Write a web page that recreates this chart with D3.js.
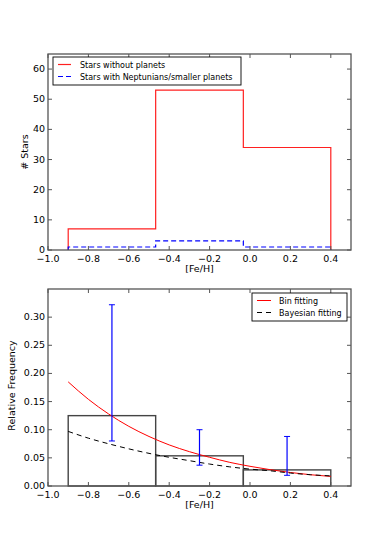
<!DOCTYPE html>
<html>
<head>
<meta charset="utf-8">
<script src="https://cdn.jsdelivr.net/npm/d3@7"></script>
<style>
body{margin:0;background:#fff}
text{font-family:"DejaVu Sans",sans-serif;fill:#000}
</style>
</head>
<body>
<div id="chart"></div>
<script>
// bin edges in [Fe/H]
var binEdges = [-0.9, -0.467, -0.033, 0.4]
// top panel: counts per bin
var countsNoPlanets = [7, 53, 34]
var countsNeptunians = [1, 3, 1]
// bottom panel: relative frequency per bin and error bars
var relFreq = [0.125, 0.0536, 0.0286]
var errLow = [0.080, 0.037, 0.019]
var errHigh = [0.322, 0.100, 0.088]
// fitted curves
var fitX = [-0.9, -0.8, -0.7, -0.6, -0.5, -0.4, -0.3, -0.2, -0.1, 0.0, 0.1, 0.2, 0.3, 0.4]
var binFit = [0.185, 0.154, 0.128, 0.106, 0.088, 0.073, 0.061, 0.051, 0.042, 0.035, 0.029, 0.024, 0.020, 0.017]
var bayesFit = [0.097, 0.085, 0.075, 0.066, 0.058, 0.051, 0.045, 0.039, 0.034, 0.030, 0.027, 0.023, 0.020, 0.018]
// ticks
var xTicks = [-1.0, -0.8, -0.6, -0.4, -0.2, 0.0, 0.2, 0.4]
var yTicksTop = [0, 10, 20, 30, 40, 50, 60]
var yTicksBot = [0, 0.05, 0.10, 0.15, 0.20, 0.25, 0.30]

var svg = d3.select('#chart').append('svg')
.attr('width', 390)
.attr('height', 540)

var left = 48, right = 351
var frameColor = '#555'

function minus(s){ return s.replace('-', '\u2212') }

function drawFrame(g, x, y, h, yTicks, yFmt){
    // inward ticks on all four sides
    xTicks.forEach(function(t){
        g.append('line').attr('x1', x(t)).attr('x2', x(t)).attr('y1', h).attr('y2', h-4).attr('stroke', frameColor)
        g.append('line').attr('x1', x(t)).attr('x2', x(t)).attr('y1', 0).attr('y2', 4).attr('stroke', frameColor)
        g.append('text').attr('x', x(t)).attr('y', h+12).attr('text-anchor', 'middle').style('font-size', '9.5px')
        .text(minus(d3.format('.1f')(t)))
    })
    yTicks.forEach(function(t){
        g.append('line').attr('x1', 0).attr('x2', 4).attr('y1', y(t)).attr('y2', y(t)).attr('stroke', frameColor)
        g.append('line').attr('x1', right-left).attr('x2', right-left-4).attr('y1', y(t)).attr('y2', y(t)).attr('stroke', frameColor)
        g.append('text').attr('x', -3).attr('y', y(t)+3).attr('text-anchor', 'end').style('font-size', '9.5px')
        .text(yFmt(t))
    })
    g.append('rect').attr('x', 0).attr('y', 0).attr('width', right-left).attr('height', h)
    .attr('fill', 'none').attr('stroke', frameColor).attr('stroke-width', 1.3)
}

function stepPath(x, y, counts){
    var p = d3.path()
    p.moveTo(x(binEdges[0]), y(0))
    counts.forEach(function(c, i){
        p.lineTo(x(binEdges[i]), y(c))
        p.lineTo(x(binEdges[i+1]), y(c))
    })
    p.lineTo(x(binEdges[binEdges.length-1]), y(0))
    return p.toString()
}

// ---- top panel ----
var top1 = 54, h1 = 250 - 54
var g1 = svg.append('g').attr('transform', 'translate(' + left + ',' + top1 + ')')
var x1 = d3.scaleLinear().domain([-1.0, 0.5]).range([0, right-left])
var y1 = d3.scaleLinear().domain([0, 65]).range([h1, 0])

g1.append('path').attr('d', stepPath(x1, y1, countsNoPlanets))
.attr('fill', 'none').attr('stroke', '#ff2020').attr('stroke-width', 1.2)
g1.append('path').attr('d', stepPath(x1, y1, countsNeptunians))
.attr('fill', 'none').attr('stroke', '#0000ff').attr('stroke-width', 1.2).attr('stroke-dasharray', '5,3')

drawFrame(g1, x1, y1, h1, yTicksTop, function(d){ return d3.format('d')(d) })

g1.append('text').attr('transform', 'rotate(-90)').attr('x', -h1/2).attr('y', -20)
.attr('text-anchor', 'middle').style('font-size', '9.5px').text('# Stars')
g1.append('text').attr('x', (right-left)/2).attr('y', h1+22)
.attr('text-anchor', 'middle').style('font-size', '9.5px').text('[Fe/H]')

// legend top
var leg1 = g1.append('g').attr('transform', 'translate(5,3)')
leg1.append('rect').attr('width', 188).attr('height', 28).attr('fill', '#fff').attr('stroke', '#000').attr('stroke-width', 0.9)
leg1.append('line').attr('x1', 5).attr('x2', 18).attr('y1', 7.5).attr('y2', 7.5).attr('stroke', '#ff2020').attr('stroke-width', 1.2)
leg1.append('text').attr('x', 27).attr('y', 10.5).style('font-size', '8px').text('Stars without planets')
leg1.append('line').attr('x1', 5).attr('x2', 18).attr('y1', 19.5).attr('y2', 19.5).attr('stroke', '#0000ff').attr('stroke-width', 1.2).attr('stroke-dasharray', '5,3')
leg1.append('text').attr('x', 27).attr('y', 22.5).style('font-size', '8px').text('Stars with Neptunians/smaller planets')

// ---- bottom panel ----
var top2 = 289, h2 = 486 - 289
var g2 = svg.append('g').attr('transform', 'translate(' + left + ',' + top2 + ')')
var x2 = d3.scaleLinear().domain([-1.0, 0.5]).range([0, right-left])
var y2 = d3.scaleLinear().domain([0, 0.35]).range([h2, 0])

g2.selectAll('.bar').data(relFreq).enter().append('rect')
.attr('class', 'bar')
.attr('x', function(d, i){ return x2(binEdges[i]) })
.attr('y', function(d){ return y2(d) })
.attr('width', function(d, i){ return x2(binEdges[i+1]) - x2(binEdges[i]) })
.attr('height', function(d){ return h2 - y2(d) })
.attr('fill', 'none').attr('stroke', '#444').attr('stroke-width', 1.4)

var line2 = d3.line().x(function(d){ return x2(d[0]) }).y(function(d){ return y2(d[1]) }).curve(d3.curveMonotoneX)
g2.append('path').attr('d', line2(fitX.map(function(v, i){ return [v, binFit[i]] })))
.attr('fill', 'none').attr('stroke', '#ff0000').attr('stroke-width', 1)
g2.append('path').attr('d', line2(fitX.map(function(v, i){ return [v, bayesFit[i]] })))
.attr('fill', 'none').attr('stroke', '#000').attr('stroke-width', 1).attr('stroke-dasharray', '5,4')

// error bars at bin centres
relFreq.forEach(function(d, i){
    var cx = x2((binEdges[i] + binEdges[i+1]) / 2)
    g2.append('line').attr('x1', cx).attr('x2', cx).attr('y1', y2(errLow[i])).attr('y2', y2(errHigh[i]))
    .attr('stroke', '#0000ff').attr('stroke-width', 1.2)
    ;[errLow[i], errHigh[i]].forEach(function(e){
        g2.append('line').attr('x1', cx-3).attr('x2', cx+3).attr('y1', y2(e)).attr('y2', y2(e))
        .attr('stroke', '#0000ff').attr('stroke-width', 1)
    })
})

drawFrame(g2, x2, y2, h2, yTicksBot, function(d){ return d3.format('.2f')(d) })

g2.append('text').attr('transform', 'rotate(-90)').attr('x', -h2/2 + 2).attr('y', -33)
.attr('text-anchor', 'middle').style('font-size', '9.5px').text('Relative Frequency')
g2.append('text').attr('x', (right-left)/2).attr('y', h2+22)
.attr('text-anchor', 'middle').style('font-size', '9.5px').text('[Fe/H]')

// legend bottom
var leg2 = g2.append('g').attr('transform', 'translate(204,4)')
leg2.append('rect').attr('width', 95).attr('height', 28).attr('fill', '#fff').attr('stroke', '#000').attr('stroke-width', 0.9)
leg2.append('line').attr('x1', 5).attr('x2', 19).attr('y1', 7.5).attr('y2', 7.5).attr('stroke', '#ff0000').attr('stroke-width', 1)
leg2.append('text').attr('x', 27).attr('y', 10.5).style('font-size', '8px').text('Bin fitting')
leg2.append('line').attr('x1', 5).attr('x2', 19).attr('y1', 19.5).attr('y2', 19.5).attr('stroke', '#000').attr('stroke-width', 1).attr('stroke-dasharray', '5,4')
leg2.append('text').attr('x', 27).attr('y', 22.5).style('font-size', '8px').text('Bayesian fitting')
</script>
</body>
</html>
